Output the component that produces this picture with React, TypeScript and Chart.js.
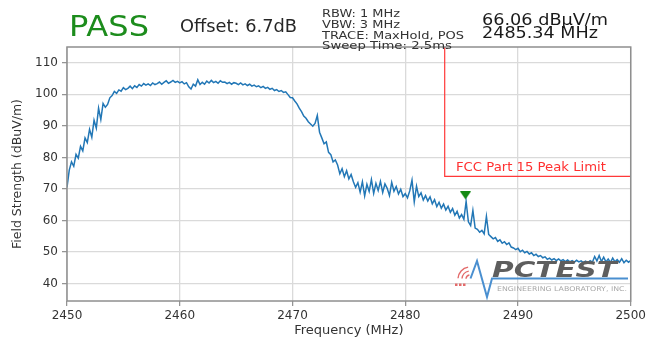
import React, { useEffect, useRef } from 'react';
import { Chart, registerables } from 'chart.js';

Chart.register(...registerables);

// ---- data ----
const FREQ_START = 2450;
const FREQ_STOP = 2500;

// Max-hold trace, one value every 0.2 MHz from 2450 to 2500 MHz (dBuV/m)
const TRACE_LEVEL = [
  70.5, 76.0, 78.6, 77.2, 81.0, 79.8, 83.5, 82.1, 86.2, 84.7,
  88.9, 86.4, 91.8, 89.3, 95.6, 92.0, 97.1, 95.9, 96.8, 98.9,
  99.6, 100.9, 100.3, 101.4, 101.0, 102.1, 101.5, 101.9, 102.6, 101.8,
  102.7, 102.2, 103.1, 102.6, 103.4, 102.9, 103.3, 102.8, 103.6, 103.1,
  103.4, 103.9, 103.2, 103.8, 104.3, 103.5, 103.9, 104.4, 103.8, 104.1,
  103.6, 104.0, 103.3, 103.7, 102.4, 101.7, 103.2, 102.6, 104.6, 103.1,
  103.8, 103.2, 104.2, 103.6, 104.4, 103.7, 104.1, 103.5, 104.3, 103.8,
  103.9, 103.4, 103.8, 103.2, 103.7, 103.5, 103.1, 103.6, 103.0, 103.3,
  102.8, 103.2, 102.6, 102.9, 102.4, 102.7, 102.1, 102.5, 101.9, 102.2,
  101.6, 101.9, 101.2, 101.5, 100.9, 101.2, 100.6, 100.8, 99.9, 99.0,
  98.9, 97.9, 97.0, 95.6, 94.5, 93.1, 92.4, 91.3, 90.6, 89.9,
  90.8, 93.3, 88.0, 86.2, 84.3, 84.9, 81.6, 80.9, 78.6, 79.2,
  77.6, 74.8, 76.4, 73.9, 75.8, 73.2, 74.6, 72.3, 70.5, 72.0,
  69.0, 72.3, 67.8, 71.5, 69.2, 73.0, 68.6, 71.8, 69.5, 72.4,
  68.9, 71.6, 70.2, 67.9, 72.1, 69.3, 70.8, 68.4, 69.9, 67.6,
  68.5, 67.2, 69.4, 72.8, 65.9, 70.9, 67.6, 68.8, 66.5, 67.9,
  66.2, 67.5, 65.3, 66.6, 64.4, 65.8, 63.9, 65.2, 63.3, 64.5,
  62.6, 63.8, 61.7, 62.9, 60.8, 61.9, 60.4, 66.06, 59.6, 58.4,
  63.2, 57.6, 57.2, 56.3, 56.9, 55.8, 61.3, 55.6, 54.9, 54.2,
  54.6, 53.4, 53.9, 52.8, 53.3, 52.4, 52.9, 51.6, 51.3, 50.8,
  51.2, 50.1, 50.6, 49.8, 50.2, 49.4, 49.8, 48.9, 49.3, 48.6,
  48.9, 48.2, 48.5, 47.7, 48.1, 47.5, 47.9, 47.3, 47.8, 47.2,
  47.6, 47.0, 47.5, 46.9, 47.3, 46.8, 47.4, 46.9, 47.2, 46.7,
  47.1, 46.6, 47.3, 46.8, 48.6, 47.2, 48.9, 47.0, 48.4, 46.9,
  47.8, 46.7, 48.1, 46.9, 47.6, 46.8, 47.9, 46.6, 47.4, 46.8,
  47.3,
];

// Sweep grid of the analyser (equally spaced bins)
const TRACE_FREQ = TRACE_LEVEL.map(
  (_, i) => FREQ_START + (i * (FREQ_STOP - FREQ_START)) / (TRACE_LEVEL.length - 1)
);

const LIMIT_FREQ = [2483.5, 2483.5, 2500];
const LIMIT_LEVEL = [130, 74, 74];
const LIMIT_LABEL = 'FCC Part 15 Peak Limit';
const LIMIT_LABEL_FREQ = 2484.5;

const MARKER_FREQ = [2485.34];
const MARKER_LEVEL = [66.06];

const X_TICKS = [2450, 2460, 2470, 2480, 2490, 2500];
const Y_TICKS = [40, 50, 60, 70, 80, 90, 100, 110];
const Y_MIN = 34.5;
const Y_MAX = 115;

const X_TITLE = 'Frequency (MHz)';
const Y_TITLE = 'Field Strength (dBuV/m)';
const VERDICT = 'PASS';
const OFFSET_TEXT = 'Offset: 6.7dB';
const SETTINGS = ['RBW: 1 MHz', 'VBW: 3 MHz', 'TRACE: MaxHold, POS', 'Sweep Time: 2.5ms'];
const MARKER_TEXT = ['66.06 dBµV/m', '2485.34 MHz'];

const FONT = "'DejaVu Sans', sans-serif";

function fitText(
  ctx: CanvasRenderingContext2D,
  s: string,
  x: number,
  y: number,
  font: string,
  color: string,
  width?: number
) {
  ctx.save();
  ctx.font = font;
  ctx.fillStyle = color;
  ctx.textAlign = 'left';
  ctx.textBaseline = 'alphabetic';
  const w = ctx.measureText(s).width;
  ctx.translate(x, y);
  if (width) ctx.scale(width / w, 1);
  ctx.fillText(s, 0, 0);
  ctx.restore();
}

const decorPlugin = {
  id: 'decor',
  beforeDraw(chart: any) {
    const { ctx, width, height } = chart;
    ctx.save();
    ctx.fillStyle = '#ffffff';
    ctx.fillRect(0, 0, width, height);
    ctx.restore();
  },
  afterDraw(chart: any) {
    const { ctx, chartArea } = chart;
    const { left, top, right, bottom } = chartArea;
    const xs = chart.scales.x;
    const ys = chart.scales.y;

    // frame
    ctx.save();
    ctx.strokeStyle = '#8f8f8f';
    ctx.lineWidth = 1.5;
    ctx.strokeRect(left, top, right - left, bottom - top);
    ctx.restore();

    // limit label
    fitText(
      ctx,
      LIMIT_LABEL,
      xs.getPixelForValue(LIMIT_LABEL_FREQ),
      ys.getPixelForValue(LIMIT_LEVEL[1]) - 5,
      `12.5px ${FONT}`,
      '#ff3030',
      150
    );

    // axis titles
    ctx.save();
    ctx.font = `13px ${FONT}`;
    ctx.fillStyle = '#333333';
    ctx.textAlign = 'center';
    ctx.textBaseline = 'middle';
    ctx.fillText(X_TITLE, (left + right) / 2, 331);
    ctx.translate(18, (top + bottom) / 2);
    ctx.rotate(-Math.PI / 2);
    ctx.font = `12.5px ${FONT}`;
    ctx.fillText(Y_TITLE, 0, 0);
    ctx.restore();

    // header
    fitText(ctx, VERDICT, 69, 36, `29px ${FONT}`, '#1c8c1c', 80);
    fitText(ctx, OFFSET_TEXT, 180, 32, `17px ${FONT}`, '#262626', 117);
    const setW = [78, 78, 142, 130];
    const setY = [17, 28, 38.5, 49];
    SETTINGS.forEach((s, i) => fitText(ctx, s, 322, setY[i], `11px ${FONT}`, '#333333', setW[i]));
    fitText(ctx, MARKER_TEXT[0], 482, 25, `16px ${FONT}`, '#1a1a1a', 126);
    fitText(ctx, MARKER_TEXT[1], 482, 37.5, `16px ${FONT}`, '#1a1a1a', 116);

    // watermark logo
    ctx.save();
    ctx.strokeStyle = '#e36a6a';
    ctx.lineWidth = 1.4;
    [4, 8, 12].forEach((r) => {
      ctx.beginPath();
      ctx.arc(470, 279, r, Math.PI * 1.02, Math.PI * 1.45);
      ctx.stroke();
    });
    ctx.fillStyle = '#e36a6a';
    [455, 459, 463].forEach((x) => ctx.fillRect(x, 283.5, 2.5, 2.5));
    ctx.strokeStyle = '#4a8fd0';
    ctx.lineWidth = 2;
    ctx.beginPath();
    ctx.moveTo(470.5, 278.5);
    ctx.lineTo(477, 261);
    ctx.lineTo(487, 297);
    ctx.lineTo(492, 278.5);
    ctx.lineTo(628, 278.5);
    ctx.stroke();
    ctx.restore();
    fitText(ctx, 'PCTEST', 492, 276.5, `italic bold 21px ${FONT}`, '#5e5e5e', 125);
    fitText(ctx, 'ENGINEERING LABORATORY, INC.', 497, 291, `6.5px ${FONT}`, '#a8a8a8', 130);
  },
};

function makeMarkerImage(): HTMLCanvasElement {
  const c = document.createElement('canvas');
  c.width = 11;
  c.height = 20;
  const g = c.getContext('2d')!;
  g.fillStyle = '#138a13';
  g.beginPath();
  g.moveTo(0, 0);
  g.lineTo(11, 0);
  g.lineTo(5.5, 8);
  g.closePath();
  g.fill();
  return c;
}

export default function App() {
  const ref = useRef<HTMLCanvasElement | null>(null);

  useEffect(() => {
    if (!ref.current) return;
    const marker = makeMarkerImage();
    const chart = new Chart(ref.current, {
      type: 'line',
      data: {
        datasets: [
          {
            data: TRACE_FREQ.map((f, i) => ({ x: f, y: TRACE_LEVEL[i] })),
            borderColor: '#2277b6',
            borderWidth: 1.5,
            pointRadius: 0,
            tension: 0,
            order: 2,
          },
          {
            data: LIMIT_FREQ.map((f, i) => ({ x: f, y: LIMIT_LEVEL[i] })),
            borderColor: '#ff3838',
            borderWidth: 1.2,
            pointRadius: 0,
            tension: 0,
            order: 1,
          },
          {
            data: MARKER_FREQ.map((f, i) => ({ x: f, y: MARKER_LEVEL[i] })),
            showLine: false,
            pointStyle: marker as any,
            pointRadius: 6,
            order: 0,
          },
        ],
      },
      options: {
        responsive: false,
        animation: false,
        devicePixelRatio: 1,
        layout: { padding: { left: 0, top: 47, right: 17, bottom: 0 } },
        plugins: { legend: { display: false }, tooltip: { enabled: false } },
        scales: {
          x: {
            type: 'linear',
            min: FREQ_START,
            max: FREQ_STOP,
            afterBuildTicks: (s: any) => {
              s.ticks = X_TICKS.map((v) => ({ value: v }));
            },
            afterFit: (s: any) => {
              s.height = 38;
            },
            grid: {
              color: '#dadada',
              lineWidth: 1.3,
              drawTicks: true,
              tickLength: 5,
              tickColor: '#8f8f8f',
              tickWidth: 1.2,
            },
            border: { display: false },
            ticks: {
              font: { family: FONT, size: 12 },
              color: '#333333',
              padding: 3,
              maxRotation: 0,
              callback: (v: any) => String(v),
            },
          },
          y: {
            type: 'linear',
            min: Y_MIN,
            max: Y_MAX,
            afterBuildTicks: (s: any) => {
              s.ticks = Y_TICKS.map((v) => ({ value: v }));
            },
            afterFit: (s: any) => {
              s.width = 67;
            },
            grid: {
              color: '#dadada',
              lineWidth: 1.3,
              drawTicks: true,
              tickLength: 5,
              tickColor: '#8f8f8f',
              tickWidth: 1.2,
            },
            border: { display: false },
            ticks: {
              font: { family: FONT, size: 12 },
              color: '#333333',
              padding: 4,
              callback: (v: any) => String(v),
            },
          },
        },
      },
      plugins: [decorPlugin],
    });
    return () => chart.destroy();
  }, []);

  return (
    <div style={{ position: 'fixed', left: 0, top: 0, width: 649, height: 339, background: '#fff' }}>
      <canvas ref={ref} width={649} height={339} style={{ display: 'block', width: 649, height: 339 }} />
    </div>
  );
}
